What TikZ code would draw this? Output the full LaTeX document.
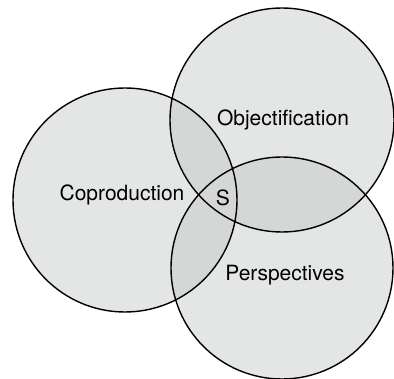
\documentclass[tikz,border=0pt]{standalone}
\usepackage{fontspec}
\setmainfont{TeX Gyre Heros}
\usetikzlibrary{positioning}
\definecolor{vennlight}{RGB}{228,229,229}
\definecolor{venndark}{RGB}{213,214,214}
\tikzset{vennline/.style={line width=1.4pt},
  venntext/.style={font=\fontsize{21}{25}\selectfont,inner sep=0pt}}
\begin{document}
\begin{tikzpicture}[x=1pt,y=-1pt]
\useasboundingbox (0,0) rectangle (394,379);

\def\copro{(125,200) circle (112)}
\def\objec{(282,120) circle (112)}
\def\persp{(282,268) circle (111)}

\fill[vennlight] \copro;
\fill[vennlight] \objec;
\fill[vennlight] \persp;

% overlaps
\begin{scope}
\clip \copro;
\fill[venndark] \objec;
\fill[venndark] \persp;
\end{scope}
\begin{scope}
\clip \objec;
\fill[venndark] \persp;
\end{scope}

\draw[vennline] \copro;
\draw[vennline] \objec;
\draw[vennline] \persp;

\node[venntext] (coproduction) at (122,195) {Coproduction};
\node[venntext] (objectification) at (283,120) {Objectification};
\node[venntext] (perspectives) at (285,275) {Perspectives};
\node[venntext] (s) at (223,198) {S};
\end{tikzpicture}
\end{document}
